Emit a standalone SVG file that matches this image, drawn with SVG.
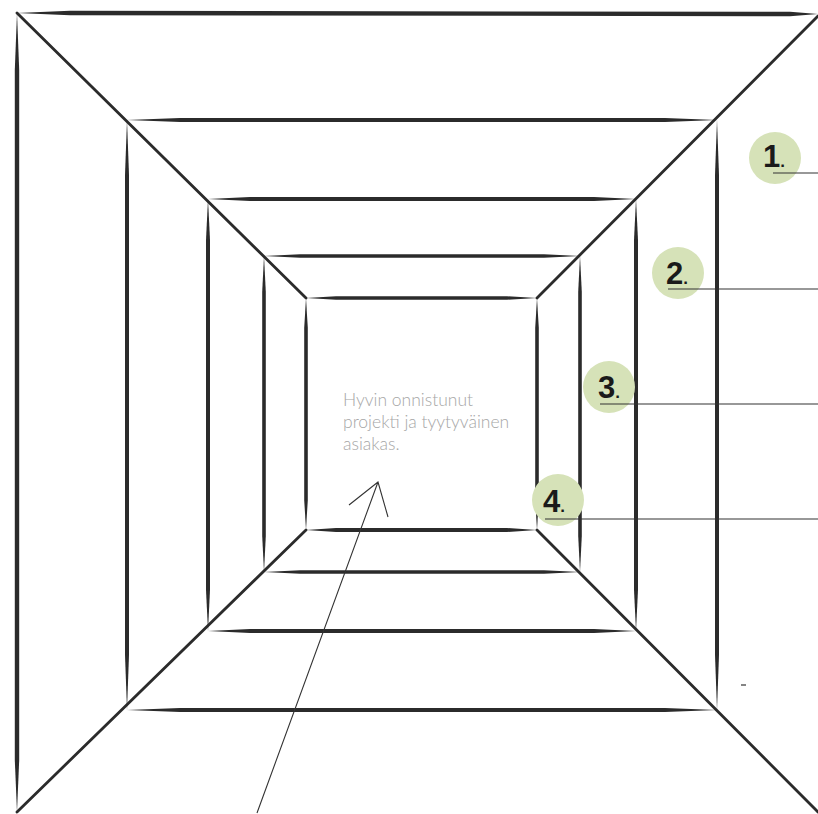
<svg xmlns="http://www.w3.org/2000/svg" width="818" height="814" viewBox="0 0 818 814">
<style>
.b{fill:#2b2b2b}
.d{stroke:#2b2b2b;stroke-width:2.8;stroke-linecap:round;fill:none}
.c{fill:#d6e2b8}
.n{font-family:"Liberation Sans",Arial,sans-serif;font-weight:bold;font-size:31px;fill:#1a1a1a}
.dot{font-weight:bold;font-size:17px}
.ln{stroke:#333;stroke-width:1.2}
.t{font-family:Lato,"Open Sans",sans-serif;font-weight:300;font-size:17.5px;fill:#a6a6a6}
.a{stroke:#333;stroke-width:1.1;fill:none}
</style>
<rect width="818" height="814" fill="#fff"/>
<g id="frame">
<polygon class="b" points="17,13 70,10.8 790,11.8 818,14 790,16.2 70,15.2"/>
<polygon class="b" points="17,13 19.2,70 19.2,760 17,812 14.8,760 14.8,70"/>
<line class="d" x1="17" y1="13" x2="306" y2="298"/>
<line class="d" x1="818" y1="16" x2="537" y2="298"/>
<line class="d" x1="17" y1="812" x2="306" y2="530"/>
<line class="d" x1="818" y1="812" x2="537" y2="530"/>
</g>
<g id="square1">
<polygon class="b" points="127,120 180,118 665,118 717,120 665,122 180,122"/>
<polygon class="b" points="127,710 180,708 665,708 717,710 665,712 180,712"/>
<polygon class="b" points="127,120 129,175 129,655 127,710 125,655 125,175"/>
<polygon class="b" points="717,120 719,175 719,655 717,710 715,655 715,175"/>
</g>
<g id="square2">
<polygon class="b" points="208,199 250,197 594,197 636,199 594,201 250,201"/>
<polygon class="b" points="208,631 250,629 594,629 636,631 594,633 250,633"/>
<polygon class="b" points="208,199 210,240 210,590 208,631 206,590 206,240"/>
<polygon class="b" points="636,199 638,240 638,590 636,631 634,590 634,240"/>
</g>
<g id="square3">
<polygon class="b" points="264,256 300,254.2 544,254.2 580,256 544,257.8 300,257.8"/>
<polygon class="b" points="264,572 300,570.2 544,570.2 580,572 544,573.8 300,573.8"/>
<polygon class="b" points="264,256 265.8,292 265.8,536 264,572 262.2,536 262.2,292"/>
<polygon class="b" points="580,256 581.8,292 581.8,536 580,572 578.2,536 578.2,292"/>
</g>
<g id="square4">
<polygon class="b" points="306,298 336,296.2 507,296.2 537,298 507,299.8 336,299.8"/>
<polygon class="b" points="306,530 336,528 507,528 537,530 507,532 336,532"/>
<polygon class="b" points="306,298 307.8,328 307.8,500 306,530 304.2,500 304.2,328"/>
<polygon class="b" points="537,298 538.8,328 538.8,500 537,530 535.2,500 535.2,328"/>
</g>
<g id="goal">
<text class="t" x="343" y="406">Hyvin onnistunut</text>
<text class="t" x="343" y="428">projekti ja tyytyväinen</text>
<text class="t" x="343" y="450">asiakas.</text>
</g>
<g id="arrow">
<path class="a" d="M257,813 L378,482 M349,505 L378,482 L388,517"/>
</g>
<g id="label1">
<circle class="c" cx="775" cy="158" r="26"/>
<line class="ln" x1="773" y1="173" x2="818" y2="173"/>
<text class="n" x="763" y="167">1<tspan class="dot">.</tspan></text>
</g>
<g id="label2">
<circle class="c" cx="678" cy="273" r="26"/>
<line class="ln" x1="668" y1="289" x2="818" y2="289"/>
<text class="n" x="666" y="284">2<tspan class="dot">.</tspan></text>
</g>
<g id="label3">
<circle class="c" cx="609" cy="387" r="26"/>
<line class="ln" x1="600" y1="404" x2="818" y2="404"/>
<text class="n" x="598" y="398">3<tspan class="dot">.</tspan></text>
</g>
<g id="label4">
<circle class="c" cx="558" cy="500" r="26"/>
<line class="ln" x1="545" y1="519" x2="818" y2="519"/>
<text class="n" x="543" y="512">4<tspan class="dot">.</tspan></text>
</g>
<line class="ln" x1="741" y1="685" x2="746" y2="685"/>
</svg>
